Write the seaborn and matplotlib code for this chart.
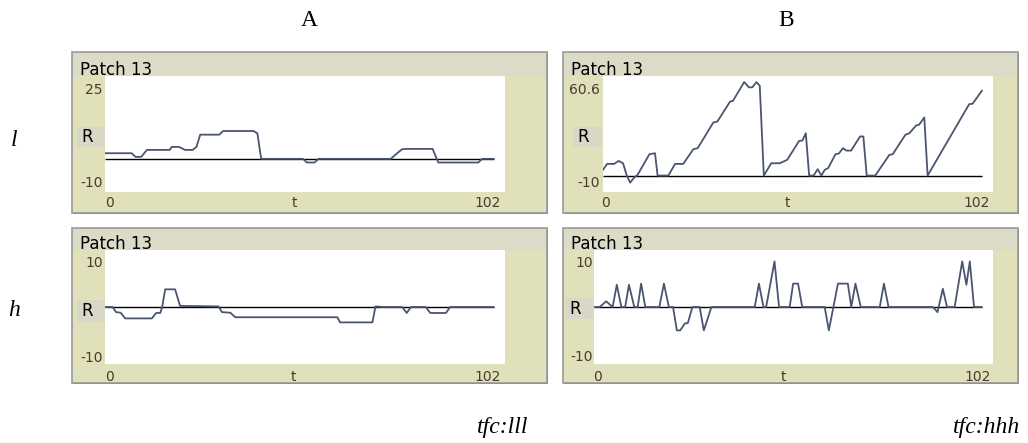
import numpy as np
import pandas as pd
import seaborn as sns
import matplotlib.pyplot as plt
from matplotlib.patches import Rectangle

# trace vertices (t, value)
t_a_l = [0, 7, 8, 9.5, 11, 17, 17.5, 19.5, 21, 23, 24, 25, 30, 31, 39, 40, 41,
         52, 53, 55, 56, 75, 77, 78, 79, 86, 87.5, 98, 99, 102]
v_a_l = [1.7, 1.7, 0.6, 0.6, 2.7, 2.7, 3.6, 3.6, 2.7, 2.7, 3.6, 7.3, 7.3, 8.4, 8.4, 7.7, 0,
         0, -1.1, -1.1, 0, 0, 2.0, 2.9, 3.0, 3.0, -1.1, -1.1, 0, 0]

t_b_l = [0, 1.1, 3, 4.2, 5.4, 6.4, 7.3, 8.4, 9.3, 12.5, 14, 14.7, 17.6, 19.4, 21.6,
         24.3, 25.5, 29.7, 30.8, 34.2, 35, 38, 39.3, 40.2, 41.3, 42.2, 43.3, 45.3,
         47.6, 49.6, 52.8, 53.7, 54.6, 55.5, 56.7, 57.8, 58.8, 59.7, 60.6, 62.6,
         63.5, 64.6, 65.5, 66.8, 69.2, 70.1, 71, 73.3, 77.1, 78, 81.4, 82.5, 84.3,
         85.1, 86.5, 87.4, 98.6, 99.5, 102]
v_b_l = [3.5, 7.1, 7.1, 8.9, 7.5, 0, -4.3, -1.2, 0.4, 13, 13.6, 0, 0, 7.1, 7.1,
         16, 16.7, 32.3, 32.9, 45, 45.5, 56.9, 53.7, 53.7, 56.9, 54.7, 0, 7.5,
         7.5, 9.6, 21.1, 21.3, 25.8, 0, 0, 3.9, 0, 3.5, 4.5, 13,
         13.4, 16.7, 15.2, 15.2, 23.8, 23.8, 0, 0, 12.6, 13, 24.8, 25.8, 30.5,
         30.9, 35.4, 0, 43.5, 43.7, 51.6]

t_a_h = [0, 2, 2.9, 4.1, 5.3, 12.3, 13.4, 14.5, 15, 15.8, 18.4, 19.7, 29.8, 30.7,
         32.9, 34.2, 61, 61.7, 70.2, 71, 72.8, 78, 79.2, 80.3, 84.2, 85.4, 89.5,
         90.6, 102]
v_a_h = [0, 0, -0.9, -1, -2, -2, -1.05, -1.05, 0, 3.1, 3.1, 0.2, 0.1, -0.9,
         -1, -1.8, -1.8, -2.7, -2.7, 0.1, 0, 0, -1.05, 0, 0, -1.05, -1.05,
         0, 0]

t_b_h = [0, 1.5, 3.2, 4.9, 6, 7.2, 8.2, 9.2, 10.6, 11.5, 12.4, 13.5, 17.2, 18.4,
         19.7, 20.8, 21.8, 22.7, 23.9, 24.7, 25.9, 27.8, 28.9, 30.9, 42.3, 43.4,
         44.6, 45.3, 47.5, 48.7, 51.5, 52.4, 53.7, 54.8, 60.7, 61.8, 64.2, 66.8,
         67.7, 68.8, 70.2, 75.2, 76.3, 77.5, 89.2, 90.4, 91.8, 92.9, 94.9, 96.9,
         98, 98.9, 100, 102]
v_b_h = [0, 0, 1, 0, 3.9, 0, 0, 3.9, 0, 0, 4.1, 0, 0, 4.1,
         0, 0, -4.1, -4.1, -2.9, -2.8, 0, 0, -4.1, 0, 0, 4.1,
         0, 0, 8, 0, 0, 4.1, 4.1, 0, 0, -4.1, 4.1, 4.1,
         0, 4.1, 0, 0, 4.1, 0, 0, -0.9, 3.2, 0, 0, 8,
         3.9, 8, 0, 0]

col_labels = ["A", "B"]
row_labels = ["l", "h"]
corner_labels = ["tfc:lll", "tfc:hhh"]
y_top_labels = ["25", "60.6", "10", "10"]
y_limits = [(-10, 25), (-10, 60.6), (-10, 10), (-10, 10)]

W, H = 1028, 443
fig = plt.figure(figsize=(W / 100, H / 100), dpi=100)
fig.patch.set_facecolor("white")

BODY = "#e0e0ba"
BAR = "#dcdbc7"
RBOX = "#d9d7c6"
LINE = "#4a5570"
TICK = "#4a3a30"


def fx(x):
    return x / W


def fy(y):
    return 1 - y / H


def box(x0, y0, x1, y1, **kw):
    fig.patches.append(Rectangle((fx(x0), fy(y1)), (x1 - x0) / W, (y1 - y0) / H,
                                 transform=fig.transFigure, zorder=-10, **kw))


def txt(x, y, s, **kw):
    fig.text(fx(x), fy(y), s, **kw)


# panel geometry in pixels: outer box, bar bottom, white area, R box, label spots
panels = [
    dict(outer=(72, 52, 547, 213), bar=76, white=(105, 76, 505, 192), rbox=(77, 127, 105, 147),
         ylab_x=103, ytop_y=90, ybot_y=183, xlab_y=203, x0=109, xt=294, x1=488),
    dict(outer=(563, 52, 1018, 213), bar=76, white=(603, 76, 993, 192), rbox=(573, 127, 602, 147),
         ylab_x=600, ytop_y=90, ybot_y=183, xlab_y=203, x0=605, xt=787, x1=977),
    dict(outer=(72, 228, 547, 383), bar=250, white=(105, 250, 505, 364), rbox=(77, 300, 105, 322),
         ylab_x=103, ytop_y=263, ybot_y=358, xlab_y=377, x0=109, xt=293, x1=488),
    dict(outer=(563, 228, 1018, 383), bar=250, white=(594, 250, 993, 364), rbox=(565, 298, 594, 319),
         ylab_x=593, ytop_y=263, ybot_y=357, xlab_y=377, x0=598, xt=783, x1=978),
]
traces = [(t_a_l, v_a_l), (t_b_l, v_b_l), (t_a_h, v_a_h), (t_b_h, v_b_h)]

for p, (t, v), ylim, ytop in zip(panels, traces, y_limits, y_top_labels):
    ox0, oy0, ox1, oy1 = p["outer"]
    box(ox0 + 1, oy0 + 1, ox1 + 1, oy1 + 1, facecolor="#6e6e6e", edgecolor="none")
    box(ox0, oy0, ox1, oy1, facecolor=BODY, edgecolor="#9a9a9a", linewidth=1.2)
    box(ox0 + 1, oy0 + 1, ox1 - 1, p["bar"], facecolor=BAR, edgecolor="none")
    box(*p["rbox"], facecolor=RBOX, edgecolor="none")

    wx0, wy0, wx1, wy1 = p["white"]
    ax = fig.add_axes([fx(wx0), fy(wy1), (wx1 - wx0) / W, (wy1 - wy0) / H])
    ax.set_zorder(5)
    ax.set_facecolor("white")
    df = pd.DataFrame({"t": t, "v": v})
    ax.hlines(0, df["t"].iloc[0], df["t"].iloc[-1], color="black", lw=1.0, zorder=1)
    sns.lineplot(data=df, x="t", y="v", ax=ax, color=LINE, lw=1.3,
                 estimator=None, sort=False, zorder=2)
    ax.set_xlim(0, 105)
    ax.set_ylim(*ylim)
    ax.set_xticks([])
    ax.set_yticks([])
    ax.set_xlabel("")
    ax.set_ylabel("")
    for s in ax.spines.values():
        s.set_visible(False)

    txt(ox0 + 8, p["bar"] - 1, "Patch 13", fontsize=12, va="baseline", ha="left",
        family="DejaVu Sans", color="black")
    rx0, ry0, rx1, ry1 = p["rbox"]
    txt(rx0 + 4, (ry0 + ry1) / 2, "R", fontsize=12, va="center", ha="left",
        family="DejaVu Sans", color="black")
    txt(p["ylab_x"], p["ytop_y"], ytop, fontsize=10, va="center", ha="right", color=TICK)
    txt(p["ylab_x"], p["ybot_y"], "-10", fontsize=10, va="center", ha="right", color=TICK)
    txt(p["x0"], p["xlab_y"], "0", fontsize=10, va="center", ha="center", color=TICK)
    txt(p["xt"], p["xlab_y"], "t", fontsize=10, va="center", ha="center", color=TICK)
    txt(p["x1"], p["xlab_y"], "102", fontsize=10, va="center", ha="center", color=TICK)

serif = ["Liberation Serif", "DejaVu Serif"]
for x, s in zip([309, 786], col_labels):
    txt(x, 21, s, fontsize=17, ha="center", va="center", family=serif)
for y, s in zip([140, 311], row_labels):
    txt(14, y, s, fontsize=17, ha="center", va="center", family=serif, style="italic")
for x, s in zip([528, 1020], corner_labels):
    txt(x, 428, s, fontsize=17, ha="right", va="center", family=serif, style="italic")

fig.savefig("out.png", dpi=100)
